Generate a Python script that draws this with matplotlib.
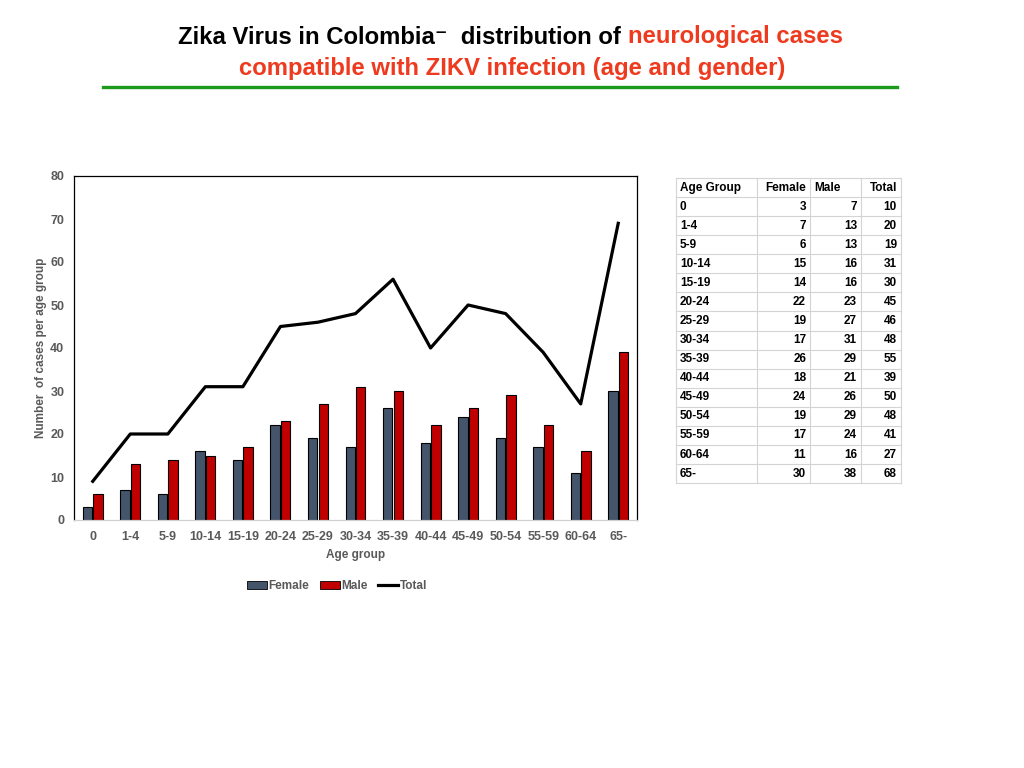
import numpy as np
import matplotlib.pyplot as plt
import matplotlib as mpl
from matplotlib.patches import Patch
from matplotlib.lines import Line2D

mpl.rcParams.update({
    "font.family": ["Liberation Sans", "DejaVu Sans"],
    "font.weight": "bold",
})

AGE_GROUPS = ["0", "1-4", "5-9", "10-14", "15-19", "20-24", "25-29", "30-34",
              "35-39", "40-44", "45-49", "50-54", "55-59", "60-64", "65-"]
# values as drawn in the chart
FEMALE = [3, 7, 6, 16, 14, 22, 19, 17, 26, 18, 24, 19, 17, 11, 30]
MALE = [6, 13, 14, 15, 17, 23, 27, 31, 30, 22, 26, 29, 22, 16, 39]
TOTAL = [9, 20, 20, 31, 31, 45, 46, 48, 56, 40, 50, 48, 39, 27, 69]
Y_TICKS = [0, 10, 20, 30, 40, 50, 60, 70, 80]

# values as printed in the side table
TABLE_HEADER = ["Age Group", "Female", "Male", "Total"]
TABLE_FEMALE = [3, 7, 6, 15, 14, 22, 19, 17, 26, 18, 24, 19, 17, 11, 30]
TABLE_MALE = [7, 13, 13, 16, 16, 23, 27, 31, 29, 21, 26, 29, 24, 16, 38]
TABLE_TOTAL = [10, 20, 19, 31, 30, 45, 46, 48, 55, 39, 50, 48, 41, 27, 68]

FEMALE_COLOR = "#44546A"
MALE_COLOR = "#C00000"
GREY_TEXT = "#595959"
RED_TITLE = "#EE3A1E"
GREEN_RULE = "#1B9A1B"

W, H = 1024, 768
fig = plt.figure(figsize=(W / 100, H / 100), dpi=100)

# ---- title ----
title_font = ["Liberation Sans", "DejaVu Sans"]
title_size = 17.2
t1 = fig.text(178 / W, 1 - 37 / H, "Zika Virus in Colombia\u207b  distribution of ",
              fontsize=title_size, weight="bold", color="black", va="center",
              ha="left", family=title_font)
fig.canvas.draw()
bb = t1.get_window_extent()
fig.text(bb.x1 / W, 1 - 37 / H, "neurological cases", fontsize=title_size,
         weight="bold", color=RED_TITLE, va="center", ha="left", family=title_font)
fig.text(512 / W, 1 - 68 / H, "compatible with ZIKV infection (age and gender)",
         fontsize=title_size, weight="bold", color=RED_TITLE, va="center",
         ha="center", family=title_font)
fig.add_artist(Line2D([103 / W, 897 / W], [1 - 87 / H, 1 - 87 / H],
                      color=GREEN_RULE, linewidth=2.4, transform=fig.transFigure))

# ---- chart ----
ax = fig.add_axes([74 / W, 1 - 520 / H, (637 - 74) / W, (520 - 176) / H])
x = np.arange(len(AGE_GROUPS))
bar_w = 0.25
ax.bar(x - 0.14, FEMALE, width=bar_w, color=FEMALE_COLOR, edgecolor="black",
       linewidth=0.8, label="Female", zorder=2)
ax.bar(x + 0.14, MALE, width=bar_w, color=MALE_COLOR, edgecolor="black",
       linewidth=0.8, label="Male", zorder=2)
ax.plot(x, TOTAL, color="black", linewidth=2.3, label="Total", zorder=3)

ax.set_xlim(-0.5, len(AGE_GROUPS) - 0.5)
ax.set_ylim(0, 80)
ax.set_yticks(Y_TICKS)
ax.set_xticks(x)
ax.set_xticklabels(AGE_GROUPS)
ax.tick_params(length=0, labelsize=9, colors=GREY_TEXT)
ax.tick_params(axis="x", pad=8)
ax.tick_params(axis="y", pad=7)
for lab in ax.get_xticklabels() + ax.get_yticklabels():
    lab.set_fontweight("bold")
for side in ("top", "left", "right"):
    ax.spines[side].set_color("black")
    ax.spines[side].set_linewidth(0.9)
ax.spines["bottom"].set_color("#D0D0D0")
ax.spines["bottom"].set_linewidth(0.9)
ax.set_xlabel("Age group", fontsize=8.5, weight="bold", color=GREY_TEXT, labelpad=4)
ax.set_ylabel("Number  of cases per age group", fontsize=8.5, weight="bold",
              color=GREY_TEXT, labelpad=2)

handles = [Patch(facecolor=FEMALE_COLOR, edgecolor="black", linewidth=0.6),
           Patch(facecolor=MALE_COLOR, edgecolor="black", linewidth=0.6),
           Line2D([0], [0], color="black", linewidth=2.3)]
leg = fig.legend(handles, ["Female", "Male", "Total"], loc="center",
                 bbox_to_anchor=(337 / W, 1 - 586 / H), ncol=3, frameon=False,
                 fontsize=8.5, handlelength=1.7, handleheight=0.7,
                 handletextpad=0.1, columnspacing=0.9)
for t in leg.get_texts():
    t.set_color(GREY_TEXT)
    t.set_fontweight("bold")

# ---- side table ----
col_edges = [676, 757, 810, 861, 901]
row_top, row_h = 178, 19.07
n_rows = len(AGE_GROUPS) + 1
tab = fig.add_axes([0, 0, 1, 1], facecolor="none")
tab.set_xlim(0, W)
tab.set_ylim(H, 0)
tab.axis("off")
grid_color = "#D4D4D4"
for r in range(n_rows + 1):
    yy = row_top + r * row_h
    tab.plot([col_edges[0], col_edges[-1]], [yy, yy], color=grid_color, linewidth=0.8)
for cx in col_edges:
    tab.plot([cx, cx], [row_top, row_top + n_rows * row_h], color=grid_color, linewidth=0.8)

rows = [TABLE_HEADER] + [[g, str(f), str(m), str(t)] for g, f, m, t in
                         zip(AGE_GROUPS, TABLE_FEMALE, TABLE_MALE, TABLE_TOTAL)]
for r, row in enumerate(rows):
    yy = row_top + (r + 0.5) * row_h
    for c, val in enumerate(row):
        if c == 0 or (r == 0 and c == 2):
            tab.text(col_edges[c] + 4, yy, val, ha="left", va="center",
                     fontsize=8.5, weight="bold", color="black")
        else:
            tab.text(col_edges[c + 1] - 4, yy, val, ha="right", va="center",
                     fontsize=8.5, weight="bold", color="black")

fig.savefig("out.png", dpi=100)
